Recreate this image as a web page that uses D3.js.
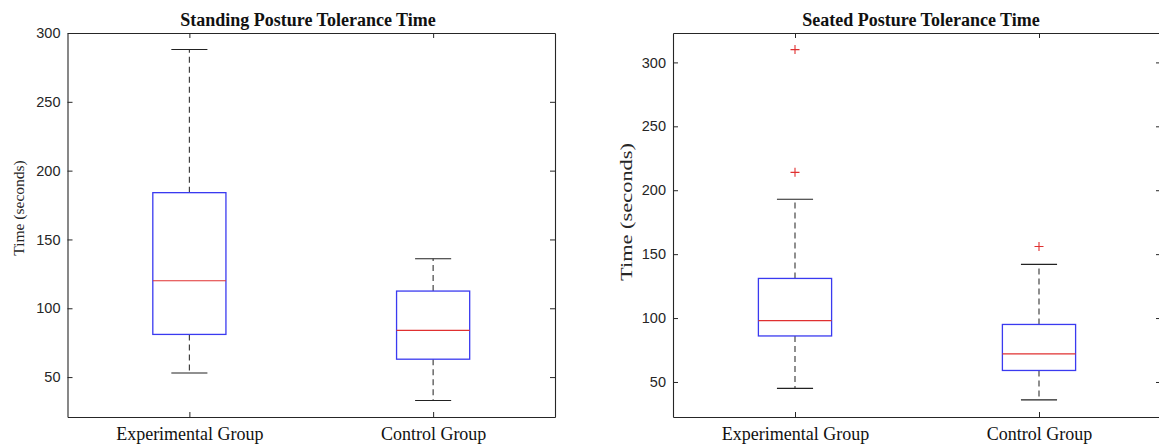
<!DOCTYPE html>
<html>
<head>
<meta charset="utf-8">
<script src="https://cdn.jsdelivr.net/npm/d3@7"></script>
<style>
  html, body { margin: 0; padding: 0; background: #fff; }
  svg { display: block; }
</style>
</head>
<body>
<svg id="chart" width="1159" height="447"></svg>
<script>
// ---- data ----
const groups = ["Experimental Group", "Control Group"];

const standingTitle = "Standing Posture Tolerance Time";
const standingLow = [53, 33];
const standingQ1 = [81, 63];
const standingMedian = [120, 84];
const standingQ3 = [184, 112.5];
const standingHigh = [288, 136];
const standingOutliers = [[], []];
const standingDomain = [21, 300];

const seatedTitle = "Seated Posture Tolerance Time";
const seatedLow = [45, 36];
const seatedQ1 = [86, 59];
const seatedMedian = [98, 72];
const seatedQ3 = [131, 95];
const seatedHigh = [193, 142];
const seatedOutliers = [[310, 214], [156]];
const seatedDomain = [22.6, 323];

const yTicks = [50, 100, 150, 200, 250, 300];
const yLabel = "Time (seconds)";

// ---- drawing ----
const svg = d3.select("#chart");
const axisColor = "#262626";

function panel(opts) {
  const { left, right, top, bottom, title, domain, low, q1, med, q3, high, outliers } = opts;
  const g = svg.append("g");
  const x = d3.scaleLinear().domain([0.5, groups.length + 0.5]).range([left, right]);
  const y = d3.scaleLinear().domain(domain).range([bottom, top]);
  const pos = groups.map((d, i) => i + 1);

  const ax = (sel) => sel.call(s => s.selectAll("path.domain").attr("stroke", axisColor))
                         .call(s => s.selectAll(".tick line").attr("stroke", axisColor));
  g.append("g").attr("transform", `translate(${left},0)`)
    .call(d3.axisLeft(y).tickValues(yTicks).tickSize(-5).tickSizeOuter(0).tickPadding(7))
    .call(ax)
    .call(s => s.selectAll("text").attr("font-family", "Liberation Sans, Arial, sans-serif")
      .attr("font-size", 14.5).attr("fill", axisColor));
  g.append("g").attr("transform", `translate(${right},0)`)
    .call(d3.axisRight(y).tickValues(yTicks).tickSize(-5).tickSizeOuter(0).tickFormat(""))
    .call(ax);
  g.append("g").attr("transform", `translate(0,${top})`)
    .call(d3.axisTop(x).tickValues(pos).tickSize(-5).tickSizeOuter(0).tickFormat(""))
    .call(ax);
  g.append("g").attr("transform", `translate(0,${bottom})`)
    .call(d3.axisBottom(x).tickValues(pos).tickSize(-5).tickSizeOuter(0).tickPadding(10)
      .tickFormat((d) => groups[d - 1]))
    .call(ax)
    .call(s => s.selectAll("text").attr("font-family", "Liberation Serif, Times New Roman, serif")
      .attr("font-size", 18).attr("fill", "#111"));
  g.selectAll("path.domain").attr("stroke-width", 1.1);

  // title
  g.append("text")
    .attr("x", opts.titleX)
    .attr("y", top - 7)
    .attr("text-anchor", "middle")
    .attr("font-family", "Liberation Serif, Times New Roman, serif")
    .attr("font-weight", "bold")
    .attr("font-size", 18)
    .attr("fill", "#111")
    .text(title);

  // y label
  const lab = g.append("text")
    .attr("transform", `translate(${opts.labelX},${opts.labelY}) rotate(-90)`)
    .attr("text-anchor", "middle")
    .attr("font-family", "Liberation Serif, Times New Roman, serif")
    .attr("font-size", opts.labelSize)
    .attr("fill", "#262626")
    .text(yLabel);
  if (opts.labelLen) lab.attr("textLength", opts.labelLen).attr("lengthAdjust", "spacingAndGlyphs");

  const boxHalf = 0.15, capHalf = 0.074;
  pos.forEach((p, i) => {
    const cx = x(p);
    const bg = g.append("g");
    bg.append("line").attr("x1", cx).attr("x2", cx).attr("y1", y(q3[i])).attr("y2", y(high[i]))
      .attr("stroke", "#333").attr("stroke-width", 1.1).attr("stroke-dasharray", "6,4");
    bg.append("line").attr("x1", cx).attr("x2", cx).attr("y1", y(q1[i])).attr("y2", y(low[i]))
      .attr("stroke", "#333").attr("stroke-width", 1.1).attr("stroke-dasharray", "6,4");
    [high[i], low[i]].forEach(v => {
      bg.append("line").attr("x1", x(p - capHalf)).attr("x2", x(p + capHalf))
        .attr("y1", y(v)).attr("y2", y(v)).attr("stroke", "#222").attr("stroke-width", 1.1);
    });
    bg.append("rect").attr("x", x(p - boxHalf)).attr("y", y(q3[i]))
      .attr("width", x(p + boxHalf) - x(p - boxHalf)).attr("height", y(q1[i]) - y(q3[i]))
      .attr("fill", "none").attr("stroke", "#3a3af0").attr("stroke-width", 1.3);
    bg.append("line").attr("x1", x(p - boxHalf)).attr("x2", x(p + boxHalf))
      .attr("y1", y(med[i])).attr("y2", y(med[i])).attr("stroke", "#e03030").attr("stroke-width", 1.2);
    outliers[i].forEach(v => {
      const oy = y(v), s = 4.5;
      bg.append("path").attr("d", `M${cx - s},${oy}H${cx + s}M${cx},${oy - s}V${oy + s}`)
        .attr("stroke", "#e03030").attr("stroke-width", 1.1).attr("fill", "none");
    });
  });
}

panel({ left: 67.5, right: 555, top: 33, bottom: 417, title: standingTitle, domain: standingDomain,
  low: standingLow, q1: standingQ1, med: standingMedian, q3: standingQ3, high: standingHigh,
  outliers: standingOutliers, labelX: 24, labelY: 208, labelSize: 15.5, titleX: 308 });
panel({ left: 673, right: 1161, top: 33, bottom: 417, title: seatedTitle, domain: seatedDomain,
  low: seatedLow, q1: seatedQ1, med: seatedMedian, q3: seatedQ3, high: seatedHigh,
  outliers: seatedOutliers, labelX: 632, labelY: 212, labelSize: 17, labelLen: 138, titleX: 921 });
</script>
</body>
</html>
